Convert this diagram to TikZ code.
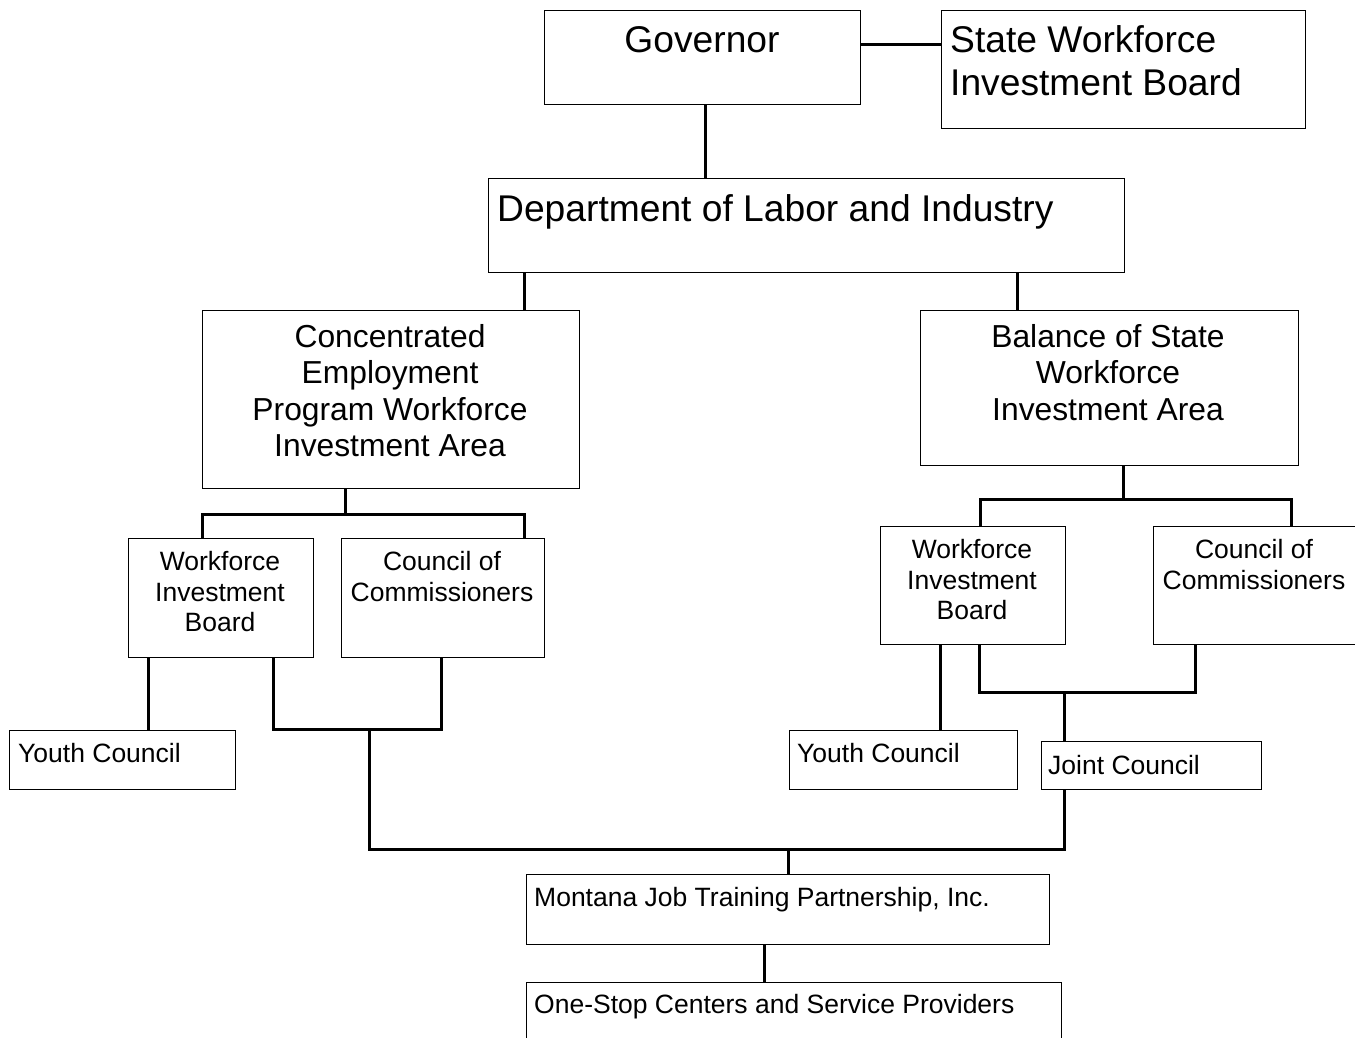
\documentclass[tikz,border=0pt]{standalone}
\usepackage{fontspec}
\setmainfont{Liberation Sans}
\begin{document}
\begin{tikzpicture}[x=1pt,y=-1pt,
  box/.style={draw, line width=1pt, inner sep=0pt, anchor=north west},
  conn/.style={line width=3pt, line join=miter},
  tbig/.style={font=\fontsize{37.2}{42.8}\selectfont, inner sep=0pt, align=left},
  tmid/.style={font=\fontsize{31.8}{36.6}\selectfont, inner sep=0pt, align=center},
  tsml/.style={font=\fontsize{26.5}{30.5}\selectfont, inner sep=0pt},
]
\useasboundingbox (0,0) rectangle (1355,1038);
\clip (0,0) rectangle (1355,1038);

% boxes
\node[box, minimum width=316pt, minimum height=94pt]  (gov)   at (544,10)  {};
\node[box, minimum width=364pt, minimum height=118pt] (swib)  at (941,10)  {};
\node[box, minimum width=636pt, minimum height=94pt]  (dept)  at (488,178) {};
\node[box, minimum width=377pt, minimum height=178pt] (cep)   at (202,310) {};
\node[box, minimum width=378pt, minimum height=155pt] (bos)   at (920,310) {};
\node[box, minimum width=185pt, minimum height=119pt] (lwib)  at (128,538) {};
\node[box, minimum width=203pt, minimum height=119pt] (lcoc)  at (341,538) {};
\node[box, minimum width=226pt, minimum height=59pt]  (lyc)   at (9,730)   {};
\node[box, minimum width=185pt, minimum height=118pt] (rwib)  at (880,526) {};
\node[box, minimum width=207pt, minimum height=118pt] (rcoc)  at (1153,526) {};
\node[box, minimum width=228pt, minimum height=59pt]  (ryc)   at (789,730) {};
\node[box, minimum width=220pt, minimum height=48pt]  (joint) at (1041,741) {};
\node[box, minimum width=523pt, minimum height=70pt]  (mjtp)  at (526,874) {};
\node[box, minimum width=535pt, minimum height=80pt]  (one)   at (526,982) {};

% texts (anchor=base is the baseline of the last line)
\node[tbig, anchor=base] (govT) at (702,53) {Governor};
\node[tbig, anchor=base west] (swibT) at (950,95.8) {State Workforce\\Investment Board};
\node[tbig, anchor=base west] (deptT) at (497,221) {Department of Labor and Industry};
\node[tmid, anchor=base] (cepT) at (390,456.8) {Concentrated\\Employment\\Program Workforce\\Investment Area};
\node[tmid, anchor=base] (bosT) at (1108,420.2) {Balance of State\\Workforce\\Investment Area};
\node[tsml, anchor=base, align=center] (lwibT) at (220,631.5) {Workforce\\Investment\\Board};
\node[tsml, anchor=base, align=center] (lcocT) at (442,601) {Council of\\Commissioners};
\node[tsml, anchor=base, align=center] (rwibT) at (972,619.5) {Workforce\\Investment\\Board};
\node[tsml, anchor=base, align=center] (rcocT) at (1254,589) {Council of\\Commissioners};
\node[tsml, anchor=base west] (lycT) at (18,762.5) {Youth Council};
\node[tsml, anchor=base west] (rycT) at (797,762.5) {Youth Council};
\node[tsml, anchor=base west] (jointT) at (1048,774.5) {Joint Council};
\node[tsml, anchor=base west] (mjtpT) at (534,906.5) {Montana Job Training Partnership, Inc.};
\node[tsml, anchor=base west] (oneT) at (534,1013.5) {One-Stop Centers and Service Providers};

% junction coordinates
\coordinate (lj) at (369,729);
\coordinate (mb) at (788,849);
\coordinate (rj) at (1064,692);

% connectors
\draw[conn] ([yshift=13pt]gov.east) -- ([yshift=13pt]gov.east -| swib.west);
\draw[conn] ([xshift=3pt]gov.south) -- ([xshift=3pt]gov.south |- dept.north);
\draw[conn] ([xshift=36pt]dept.south west) -- ([xshift=36pt]dept.south west |- cep.north);
\draw[conn] ([xshift=97pt]bos.north west) -- ([xshift=97pt]bos.north west |- dept.south);

\draw[conn] ([xshift=74pt]lwib.north west) |- ([yshift=-25pt]cep.south) -| ([xshift=183pt]lcoc.north west);
\draw[conn] ([xshift=-45.5pt]cep.south) -- ([xshift=-45.5pt,yshift=-25pt]cep.south);

\draw[conn] ([xshift=100pt]rwib.north west) |- ([yshift=-33pt]bos.south) -| ([xshift=138pt]rcoc.north west);
\draw[conn] ([xshift=14pt]bos.south) -- ([xshift=14pt,yshift=-33pt]bos.south);

\draw[conn] ([xshift=20pt]lwib.south west) -- ([xshift=20pt]lwib.south west |- lyc.north);
\draw[conn] ([xshift=145pt]lwib.south west) |- (lj) -| ([xshift=100pt]lcoc.south west);
\draw[conn] (lj) |- (mb) -| ([xshift=23pt]joint.south west);
\draw[conn] (mb) -- (mb |- mjtp.north);

\draw[conn] ([xshift=60pt]rwib.south west) -- ([xshift=60pt]rwib.south west |- ryc.north);
\draw[conn] ([xshift=99pt]rwib.south west) |- (rj) -| ([xshift=42pt]rcoc.south west);
\draw[conn] (rj) -- (rj |- joint.north);

\draw[conn] ([xshift=238pt]mjtp.south west) -- ([xshift=238pt]mjtp.south west |- one.north);
\end{tikzpicture}
\end{document}
